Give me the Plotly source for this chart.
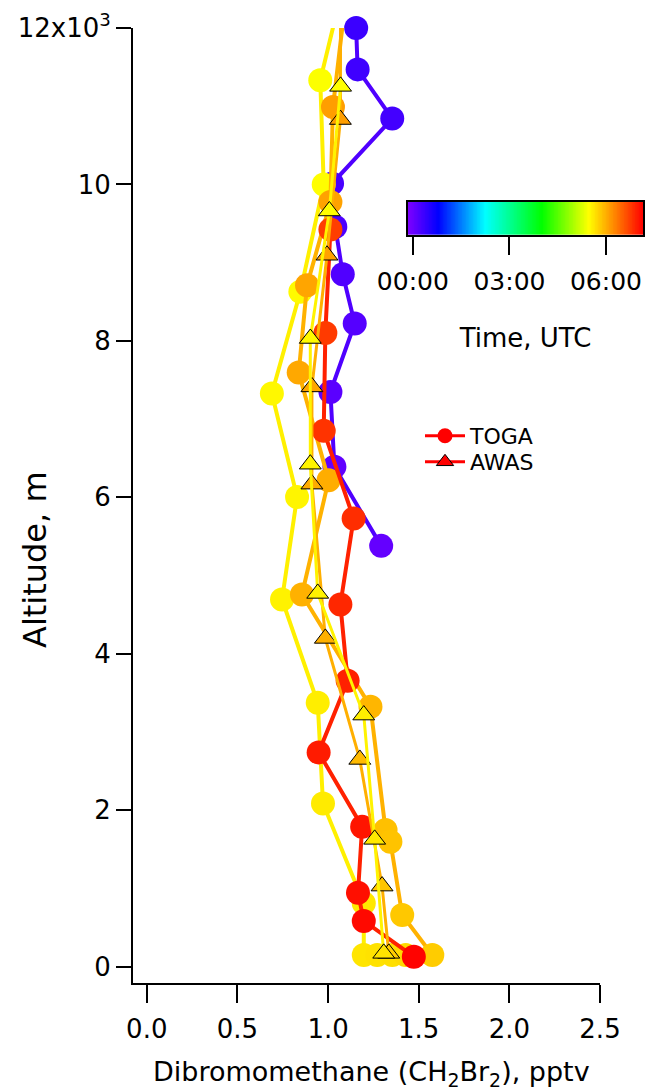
import numpy as np
import plotly.graph_objects as go
from plotly.colors import sample_colorscale

# ---------------- data ----------------
# TOGA purple profile (~00:00 UTC)
toga_p_x = [1.155, 1.163, 1.354, 1.022, 1.040, 1.081, 1.147, 1.013, 1.035, 1.293]
toga_p_alt = [12000, 11471, 10842, 10012, 9460, 8852, 8222, 7348, 6390, 5380]
toga_p_t = [0.35, 0.32, 0.29, 0.26, 0.23, 0.20, 0.16, 0.12, 0.08, 0.05]

# TOGA yellow profile (~05:30 UTC)
toga_y_x = [1.058, 0.957, 0.976, 0.847, 0.690, 0.829, 0.746, 0.943, 0.972, 1.197, 1.197, 1.271, 1.354, 1.428]
toga_y_alt = [12300, 11333, 9998, 8627, 7328, 6006, 4695, 3374, 2088, 810, 150, 150, 150, 150]
toga_y_t = [5.45, 5.46, 5.48, 5.50, 5.52, 5.54, 5.56, 5.59, 5.61, 5.63, 5.65, 5.67, 5.69, 5.72]

# TOGA orange profile (~06:00 UTC)
toga_o_x = [1.096, 1.027, 1.013, 0.884, 0.838, 1.003, 0.856, 1.234, 1.317, 1.344, 1.409, 1.575]
toga_o_alt = [12350, 10991, 9776, 8712, 7596, 6220, 4759, 3323, 1747, 1597, 661, 150]
toga_o_t = [6.14, 6.12, 6.09, 6.07, 6.05, 6.02, 5.99, 5.96, 5.89, 5.87, 5.84, 5.81]

# TOGA red profile (~07:00 UTC)
toga_r_x = [1.013, 0.985, 0.976, 1.141, 1.068, 1.108, 0.948, 1.188, 1.165, 1.197, 1.473]
toga_r_alt = [9425, 8102, 6850, 5730, 4631, 3655, 2740, 1789, 946, 586, 128]
toga_r_t = [6.75, 6.78, 6.82, 6.86, 6.90, 6.94, 6.98, 7.02, 7.06, 7.10, 7.14]

# AWAS yellow profile
awas_y_x = [1.069, 1.007, 0.902, 0.902, 0.943, 1.197, 1.257, 1.307]
awas_y_alt = [11254, 9661, 8031, 6424, 4772, 3217, 1628, 171]
awas_y_t = [5.47, 5.49, 5.51, 5.54, 5.56, 5.59, 5.62, 5.66]

# AWAS orange profile
awas_o_x = [1.069, 1.068, 0.994, 0.911, 0.911, 0.985, 1.175, 1.298, 1.335]
awas_o_alt = [12350, 10830, 9095, 7412, 6169, 4197, 2650, 1031, 171]
awas_o_t = [6.14, 6.12, 6.09, 6.06, 6.03, 6.00, 5.93, 5.86, 5.81]

# axis ticks
x_ticks = [0.0, 0.5, 1.0, 1.5, 2.0, 2.5]
x_ticktext = ["0.0", "0.5", "1.0", "1.5", "2.0", "2.5"]
y_ticks = [0, 2000, 4000, 6000, 8000, 10000, 12000]
y_ticktext = ["0", "2", "4", "6", "8", "10", "12x10<sup>3</sup>"]
cb_ticks = [0, 3, 6]
cb_ticktext = ["00:00", "03:00", "06:00"]

# ---------------- styling ----------------
T_MIN, T_MAX = -0.16, 7.16
rainbow = [
    [0.00, "rgb(128,0,255)"],
    [0.13, "rgb(0,0,255)"],
    [0.33, "rgb(0,255,255)"],
    [0.57, "rgb(0,255,0)"],
    [0.77, "rgb(255,255,0)"],
    [1.00, "rgb(255,0,0)"],
]
FONT = "DejaVu Sans, Arial, sans-serif"

W, H = 647, 1091
ML, MR, MT, MB = 133, 3, 28, 108
PW, PH = W - ML - MR, H - MT - MB
PLOT_RIGHT = 600  # right end of the x axis, px


def px_x(px):
    return (px - ML) / PW


def px_y(py):
    return (H - MB - py) / PH


def line_color(times):
    mean_t = sum(times) / len(times)
    pos = min(max((mean_t - T_MIN) / (T_MAX - T_MIN), 0), 1)
    return sample_colorscale(rainbow, [pos])[0]


fig = go.Figure()


def add_profile(x, alt, t, symbol, clip=True):
    is_tri = symbol == "triangle-up"
    fig.add_trace(go.Scatter(
        x=x, y=alt, mode="lines+markers", showlegend=False,
        cliponaxis=clip,
        line=dict(color=line_color(t), width=3 if is_tri else 4),
        marker=dict(
            symbol=symbol, size=19 if is_tri else 24,
            color=t, coloraxis="coloraxis",
            line=dict(color="black", width=1 if is_tri else 0),
        ),
        hoverinfo="skip",
    ))


add_profile(toga_p_x, toga_p_alt, toga_p_t, "circle", clip=False)
add_profile(toga_y_x, toga_y_alt, toga_y_t, "circle")
add_profile(toga_o_x, toga_o_alt, toga_o_t, "circle")
add_profile(toga_r_x, toga_r_alt, toga_r_t, "circle")
add_profile(awas_o_x, awas_o_alt, awas_o_t, "triangle-up")
add_profile(awas_y_x, awas_y_alt, awas_y_t, "triangle-up")

# legend entries (one legend box per row for exact spacing)
fig.add_trace(go.Scatter(
    x=[None], y=[None], mode="lines+markers", name="TOGA", legend="legend",
    line=dict(color="red", width=3),
    marker=dict(symbol="circle", size=15, color="red"),
))
fig.add_trace(go.Scatter(
    x=[None], y=[None], mode="lines+markers", name="AWAS", legend="legend2",
    line=dict(color="red", width=3),
    marker=dict(symbol="triangle-up", size=15, color="red", line=dict(color="black", width=1)),
))

# colour-bar (time scale) drawn as a gradient strip on its own axes
ramp = np.linspace(T_MIN, T_MAX, 300)
fig.add_trace(go.Heatmap(
    x=ramp, y=[0], z=[ramp], coloraxis="coloraxis",
    xaxis="x2", yaxis="y2", hoverinfo="skip",
))

axis_common = dict(showgrid=False, zeroline=False, showline=True, linecolor="black",
                   linewidth=2, ticks="outside", tickwidth=2, tickcolor="black",
                   automargin=False)

legend_common = dict(xanchor="left", yanchor="middle", bgcolor="rgba(0,0,0,0)",
                     font=dict(size=22, family=FONT), itemwidth=40, borderwidth=0)

fig.update_layout(
    width=W, height=H,
    margin=dict(l=ML, r=MR, t=MT, b=MB, autoexpand=False),
    plot_bgcolor="white", paper_bgcolor="white",
    font=dict(family=FONT, size=26, color="black"),
    xaxis=dict(
        domain=[0, px_x(PLOT_RIGHT)],
        range=[-0.076, 2.5], tickvals=x_ticks, ticktext=x_ticktext,
        ticklen=18, ticklabelstandoff=4, tickfont=dict(size=26), **axis_common,
    ),
    yaxis=dict(
        range=[-208, 12000], tickvals=y_ticks, ticktext=y_ticktext,
        ticklen=15, tickfont=dict(size=26), **axis_common,
    ),
    xaxis2=dict(
        domain=[px_x(407.7), px_x(643.3)], anchor="y2",
        range=[T_MIN, T_MAX], tickvals=cb_ticks, ticktext=cb_ticktext,
        ticklen=18, ticklabelstandoff=5, tickfont=dict(size=25), mirror=True,
        title=dict(text="Time, UTC", font=dict(size=26), standoff=34),
        **axis_common,
    ),
    yaxis2=dict(
        domain=[px_y(235), px_y(201.7)], anchor="x2", range=[-0.5, 0.5],
        showticklabels=False, ticks="", mirror=True, automargin=False,
        showgrid=False, zeroline=False, showline=True, linecolor="black", linewidth=2,
    ),
    coloraxis=dict(cmin=T_MIN, cmax=T_MAX, colorscale=rainbow, showscale=False),
    legend=dict(x=px_x(420), y=px_y(436), **legend_common),
    legend2=dict(x=px_x(420), y=px_y(462), **legend_common),
    annotations=[
        dict(text="Dibromomethane (CH<sub>2</sub>Br<sub>2</sub>), pptv",
             xref="paper", yref="paper", x=px_x(371.7), y=px_y(1073),
             xanchor="center", yanchor="middle", showarrow=False, font=dict(size=27)),
        dict(text="Altitude, m", textangle=-90,
             xref="paper", yref="paper", x=px_x(35), y=px_y(560),
             xanchor="center", yanchor="middle", showarrow=False, font=dict(size=32)),
    ],
)

fig.write_html(
    "out.html",
    config={"displayModeBar": False},
    post_script="document.body.style.margin='0px';",
)
